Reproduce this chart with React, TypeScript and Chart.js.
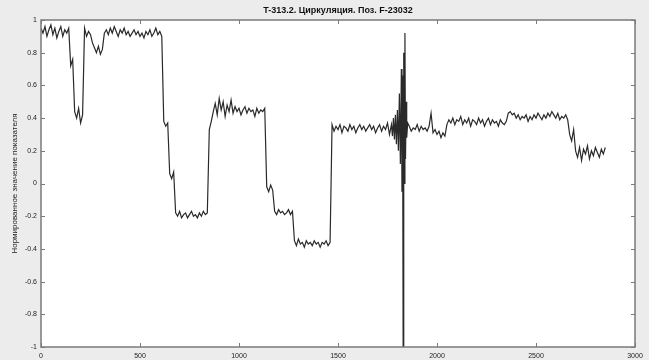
import React, { useEffect, useRef } from "react";
import { Chart, registerables } from "chart.js";

Chart.register(...registerables);

const titleText = "T-313.2. Циркуляция. Поз. F-23032";
const yAxisTitle = "Нормированное значение показателя";

const xTickValues = [0, 500, 1000, 1500, 2000, 2500, 3000];
const yTickValues = [-1, -0.8, -0.6, -0.4, -0.2, 0, 0.2, 0.4, 0.6, 0.8, 1];

// samples every 10 units, x = 0 .. 1770
const seriesAStart = 0;
const seriesA = [
  0.95, 0.92, 0.96, 0.90, 0.94, 0.97, 0.91, 0.95, 0.89, 0.93, 0.96, 0.90, 0.94, 0.92, 0.95,
  0.72, 0.76,
  0.44, 0.40, 0.46, 0.37, 0.42,
  0.95, 0.90, 0.93, 0.91,
  0.86, 0.83, 0.80, 0.84, 0.79, 0.82,
  0.92, 0.94, 0.91, 0.95, 0.92, 0.96, 0.93, 0.90, 0.94, 0.92, 0.95, 0.91, 0.93, 0.90, 0.92,
  0.94, 0.91, 0.93, 0.90, 0.92, 0.89, 0.93, 0.91, 0.94, 0.90, 0.92, 0.95, 0.91, 0.93, 0.90,
  0.38, 0.35, 0.37,
  0.06, 0.03, 0.07,
  -0.18, -0.20, -0.17, -0.21, -0.19, -0.18, -0.21, -0.19, -0.17, -0.20, -0.19, -0.21, -0.18,
  -0.20, -0.17, -0.19, -0.18,
  0.33, 0.38,
  0.44, 0.49, 0.42, 0.52, 0.45, 0.50, 0.41, 0.48, 0.44, 0.51, 0.43, 0.47, 0.44, 0.46, 0.42,
  0.45, 0.47, 0.43, 0.46, 0.44, 0.45, 0.41, 0.46, 0.43, 0.45, 0.44, 0.46,
  -0.02, -0.05, -0.01, -0.04,
  -0.17, -0.19, -0.16, -0.18, -0.17, -0.19, -0.18, -0.16, -0.19, -0.17,
  -0.35, -0.38, -0.34, -0.37, -0.36, -0.39, -0.35, -0.37, -0.36, -0.38, -0.35, -0.37, -0.36,
  -0.39, -0.36, -0.37, -0.35, -0.38, -0.36,
  0.36, 0.32, 0.35, 0.33, 0.36, 0.31, 0.35, 0.34, 0.32, 0.36, 0.33, 0.35, 0.31, 0.34, 0.36,
  0.33, 0.35, 0.32, 0.34, 0.36, 0.33, 0.35, 0.31, 0.34, 0.36, 0.32, 0.35, 0.33, 0.37, 0.30,
  0.36,
];

// disturbance around x ~ 1830
const spikeX = [1775, 1780, 1785, 1790, 1795, 1800, 1805, 1810, 1815, 1820, 1823, 1826, 1829, 1832, 1835, 1838, 1841, 1844, 1847, 1852];
const spikeY = [0.29, 0.40, 0.27, 0.42, 0.24, 0.45, 0.20, 0.55, 0.12, 0.70, -0.05, 0.66, -1.0, 0.80, 0.0, 0.92, 0.15, 0.50, 0.28, 0.37];

// samples every 10 units, x = 1860 .. 2850
const seriesBStart = 1860;
const seriesB = [
  0.35, 0.32, 0.34, 0.33, 0.36, 0.32, 0.35, 0.33, 0.34, 0.32, 0.35, 0.43, 0.31, 0.33, 0.30,
  0.32, 0.28, 0.31, 0.29,
  0.36, 0.39, 0.37, 0.40, 0.36, 0.39, 0.38, 0.41, 0.36, 0.39, 0.37, 0.40, 0.35, 0.39, 0.38,
  0.36, 0.40, 0.37, 0.39, 0.35, 0.38, 0.40, 0.36, 0.39, 0.37, 0.38, 0.35, 0.39, 0.37, 0.36,
  0.38,
  0.43, 0.44, 0.42, 0.43, 0.40, 0.42, 0.39, 0.41, 0.40, 0.42, 0.38, 0.41, 0.39, 0.42, 0.40,
  0.43, 0.41, 0.39, 0.42, 0.40, 0.43, 0.41, 0.44, 0.42, 0.40, 0.43, 0.39, 0.41, 0.40, 0.42,
  0.39,
  0.30, 0.26, 0.33,
  0.20, 0.16, 0.22, 0.14, 0.21, 0.18, 0.23, 0.15, 0.20, 0.17, 0.22, 0.19, 0.16, 0.21, 0.18,
  0.22,
];
const sampleStep = 10;

const boxPlugin = {
  id: "matlabBox",
  beforeDraw(chart: any) {
    const { ctx, chartArea } = chart;
    ctx.save();
    ctx.fillStyle = "#ffffff";
    ctx.fillRect(chartArea.left, chartArea.top, chartArea.right - chartArea.left, chartArea.bottom - chartArea.top);
    ctx.restore();
  },
  afterDraw(chart: any) {
    const { ctx, chartArea } = chart;
    const xs = chart.scales.x;
    const ys = chart.scales.y;
    const L = 4;
    ctx.save();
    ctx.strokeStyle = "#7a7a7a";
    ctx.lineWidth = 1.5;
    ctx.strokeRect(chartArea.left, chartArea.top, chartArea.right - chartArea.left, chartArea.bottom - chartArea.top);
    ctx.lineWidth = 1;
    ctx.beginPath();
    xs.ticks.forEach((t: any) => {
      const px = Math.round(xs.getPixelForValue(t.value)) + 0.5;
      ctx.moveTo(px, chartArea.bottom);
      ctx.lineTo(px, chartArea.bottom - L);
      ctx.moveTo(px, chartArea.top);
      ctx.lineTo(px, chartArea.top + L);
    });
    ys.ticks.forEach((t: any) => {
      const py = Math.round(ys.getPixelForValue(t.value)) + 0.5;
      ctx.moveTo(chartArea.left, py);
      ctx.lineTo(chartArea.left + L, py);
      ctx.moveTo(chartArea.right, py);
      ctx.lineTo(chartArea.right - L, py);
    });
    ctx.stroke();
    ctx.restore();
  },
};

export default function App() {
  const ref = useRef<HTMLCanvasElement>(null);
  useEffect(() => {
    if (!ref.current) return;
    const points: { x: number; y: number }[] = [];
    seriesA.forEach((v, i) => points.push({ x: seriesAStart + i * sampleStep, y: v }));
    spikeX.forEach((x, i) => points.push({ x, y: spikeY[i] }));
    seriesB.forEach((v, i) => points.push({ x: seriesBStart + i * sampleStep, y: v }));

    const font = "'Liberation Sans', Arial, Helvetica, sans-serif";
    const chart = new Chart(ref.current, {
      type: "line",
      data: {
        datasets: [
          {
            data: points,
            borderColor: "#2a2a2a",
            borderWidth: 1.2,
            pointRadius: 0,
            tension: 0,
            fill: false,
          },
        ],
      },
      plugins: [boxPlugin],
      options: {
        animation: false,
        responsive: false,
        maintainAspectRatio: false,
        layout: { padding: { left: 0, right: 14, top: 0, bottom: 0 } },
        plugins: {
          legend: { display: false },
          tooltip: { enabled: false },
          title: {
            display: true,
            text: titleText,
            fullSize: false,
            color: "#111",
            font: { family: font, size: 9, weight: "bold", lineHeight: 1.2 },
            padding: { top: 5, bottom: 4.2 },
          },
        },
        scales: {
          x: {
            type: "linear",
            min: 0,
            max: 3000,
            afterBuildTicks: (s: any) => {
              s.ticks = xTickValues.map((v) => ({ value: v }));
            },
            afterFit: (s: any) => {
              s.height = 13;
            },
            grid: { display: false, drawTicks: false },
            border: { display: false },
            ticks: {
              padding: 5,
              maxRotation: 0,
              autoSkip: false,
              color: "#222",
              font: { family: font, size: 7 },
              callback: (v: any) => String(v),
            },
          },
          y: {
            type: "linear",
            min: -1,
            max: 1,
            afterBuildTicks: (s: any) => {
              s.ticks = yTickValues.map((v) => ({ value: v }));
            },
            afterFit: (s: any) => {
              s.width = 41;
            },
            grid: { display: false, drawTicks: false },
            border: { display: false },
            title: {
              display: true,
              text: yAxisTitle,
              color: "#222",
              font: { family: font, size: 8, lineHeight: 1.2 },
              padding: { top: 10, bottom: 0 },
            },
            ticks: {
              padding: 4,
              autoSkip: false,
              color: "#222",
              font: { family: font, size: 7 },
              callback: (v: any) => {
                const n = Number(Number(v).toFixed(1));
                return String(n === 0 ? 0 : n);
              },
            },
          },
        },
      },
    } as any);
    return () => chart.destroy();
  }, []);

  return (
    <div
      style={{
        position: "fixed",
        left: 0,
        top: 0,
        width: 649,
        height: 360,
        background: "#ececec",
      }}
    >
      <canvas ref={ref} width={649} height={360} style={{ display: "block" }} />
    </div>
  );
}
